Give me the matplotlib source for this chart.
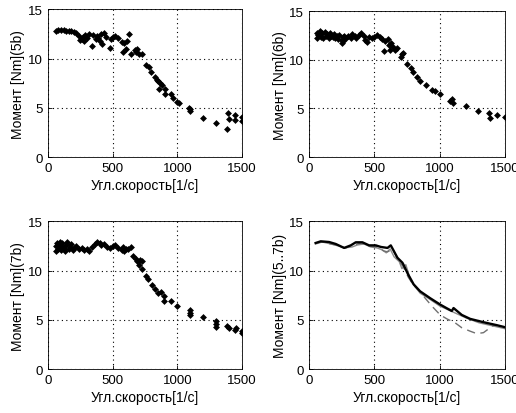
import matplotlib
matplotlib.use("Agg")
from matplotlib import pyplot as plt

plt.rcParams['font.family'] = ['Liberation Sans', 'DejaVu Sans']

# 5b measurements
x5 = [60, 80, 100, 120, 140, 160, 180, 200, 220, 240, 250, 260, 270, 280, 290, 300, 320, 340, 350,
      370, 380, 390, 400, 410, 420, 430, 450, 480, 490, 500, 520, 540, 570, 580, 590, 600, 610, 630,
      640, 670, 680, 690, 700, 725, 760, 780, 800, 825, 840, 853, 866, 861, 880, 905, 905, 949, 964,
      1000, 1010, 1093, 1100, 1100, 1196, 1299, 1387, 1395, 1400, 1446, 1446, 1500, 1500]
y5 = [12.8, 12.9, 12.9, 12.9, 12.8, 12.8, 12.8, 12.7, 12.6, 12.3, 11.9, 12.0, 12.2, 11.8, 12.4, 12.1,
      12.5, 11.3, 12.4, 12.0, 12.3, 12.1, 11.8, 12.5, 11.5, 12.6, 12.2, 11.1, 12.0, 12.2, 12.3, 12.1,
      11.7, 10.7, 11.6, 11.0, 11.8, 12.5, 10.5, 10.9, 10.7, 11.0, 10.5, 10.5, 9.4, 9.1, 8.6, 8.1, 7.8,
      7.7, 7.5, 6.9, 7.3, 6.9, 6.45, 6.4, 6.0, 5.6, 5.5, 5.0, 4.9, 4.7, 4.0, 3.45, 2.9, 4.5, 3.9, 4.3,
      3.8, 4.1, 3.7]

# 6b measurements
x6 = [60, 60, 70, 80, 90, 100, 110, 120, 130, 140, 150, 160, 170, 180, 190, 200, 210, 220, 230, 250,
      250, 260, 260, 270, 280, 300, 320, 330, 350, 360, 380, 400, 420, 430, 440, 460, 480, 500, 520,
      540, 560, 570, 580, 600, 610, 620, 630, 640, 660, 670, 700, 710, 720, 752, 778, 798, 824, 849,
      895, 939, 965, 1002, 1079, 1100, 1095, 1199, 1296, 1380, 1385, 1441, 1497]
y6 = [12.2, 12.7, 12.5, 12.9, 12.3, 12.7, 12.2, 12.8, 12.4, 12.6, 12.2, 12.7, 12.4, 12.3, 12.6, 12.2,
      12.4, 12.1, 12.5, 11.7, 12.0, 11.9, 12.3, 12.4, 12.2, 12.4, 12.2, 12.6, 12.4, 12.2, 12.5, 12.7,
      12.4, 12.0, 11.8, 12.3, 12.2, 12.3, 12.5, 12.3, 12.1, 10.9, 11.9, 12.1, 11.5, 11.0, 11.7, 11.3,
      11.0, 11.2, 10.3, 10.6, 10.7, 9.55, 9.1, 8.7, 8.2, 7.8, 7.4, 6.9, 6.8, 6.5, 5.8, 5.6, 6.0, 5.2,
      4.76, 4.5, 4.0, 4.3, 4.1]

# 7b measurements
x7 = [60, 60, 70, 80, 80, 90, 100, 100, 110, 120, 130, 140, 150, 160, 170, 180, 190, 200, 220, 240,
      260, 280, 300, 320, 340, 360, 380, 400, 410, 430, 460, 480, 500, 520, 540, 570, 580, 590, 600,
      620, 640, 660, 680, 690, 700, 710, 724, 730, 758, 776, 802, 827, 853, 870, 897, 897, 949, 1000,
      1098, 1098, 1100, 1196, 1299, 1299, 1299, 1387, 1400, 1446, 1450, 1498, 1500]
y7 = [12.0, 12.5, 12.8, 12.2, 12.6, 12.9, 12.1, 12.5, 12.8, 12.3, 12.0, 12.6, 12.9, 12.2, 12.4, 12.7,
      12.1, 12.3, 12.5, 12.2, 12.3, 12.1, 12.2, 12.0, 12.4, 12.7, 12.9, 12.8, 12.6, 12.7, 12.4, 12.3,
      12.5, 12.6, 12.3, 12.1, 12.4, 12.0, 12.2, 12.2, 12.4, 11.5, 11.2, 11.0, 10.6, 11.1, 10.2, 11.0,
      9.4, 9.1, 8.5, 8.1, 7.7, 7.8, 7.4, 6.95, 6.9, 6.4, 6.0, 5.5, 5.7, 5.3, 4.9, 4.6, 4.3, 4.36, 4.2,
      4.0, 4.2, 3.85, 3.7]

# 5..7b curves
xm = [50, 89, 153, 204, 268, 319, 357, 408, 459, 510, 549, 600, 625, 676, 714, 722, 758, 773, 800,
      849, 926, 1003, 1050, 1092, 1105, 1168, 1232, 1334, 1436, 1500]
ym = [12.8, 12.97, 12.9, 12.7, 12.3, 12.56, 12.87, 12.87, 12.56, 12.56, 12.4, 12.3, 12.56, 11.3,
      10.8, 10.6, 9.6, 9.25, 8.6, 7.9, 7.2, 6.55, 6.2, 5.9, 6.2, 5.5, 5.1, 4.76, 4.46, 4.25]
xg = [50, 100, 200, 270, 330, 370, 420, 470, 520, 560, 590, 620, 650, 690, 710, 740, 780, 850, 900,
      1000, 1100, 1200, 1300, 1400, 1500]
yg = [12.7, 12.9, 12.6, 12.3, 12.4, 12.6, 12.7, 12.4, 12.3, 12.1, 11.8, 12.2, 11.4, 10.9, 10.2, 10.6,
      8.9, 7.7, 7.3, 6.4, 5.8, 5.2, 4.7, 4.4, 4.1]
xd = [50, 100, 200, 280, 340, 400, 450, 520, 570, 600, 640, 680, 720, 760, 800, 849, 888, 939, 1003,
      1054, 1117, 1168, 1232, 1283, 1334, 1385, 1420]
yd = [12.8, 12.9, 12.6, 12.3, 12.6, 12.8, 12.5, 12.4, 12.0, 11.9, 12.2, 11.1, 10.4, 9.3, 8.5, 7.9,
      7.2, 6.4, 5.5, 5.1, 4.7, 4.2, 3.85, 3.6, 3.7, 4.2, 4.5]

fig = plt.figure(figsize=(5.16, 4.14), dpi=100)
boxes = [[0.093, 0.618, 0.376, 0.357], [0.599, 0.618, 0.380, 0.353],
         [0.093, 0.106, 0.376, 0.357], [0.599, 0.106, 0.380, 0.357]]
labels = ['Момент [Nm](5b)', 'Момент [Nm](6b)', 'Момент [Nm](7b)', 'Момент [Nm](5..7b)']
axes = [fig.add_axes(b) for b in boxes]

for ax, (xs, ys) in zip(axes[:3], [(x5, y5), (x6, y6), (x7, y7)]):
    ax.plot(xs, ys, 'D', color='black', markersize=3.5, markeredgewidth=0)

ax = axes[3]
ax.plot(xg, yg, '-', color='#8c8c8c', linewidth=1.0)
ax.plot(xd, yd, '--', color='#707070', linewidth=1.0, dashes=(6, 4))
ax.plot(xm, ym, '-', color='black', linewidth=1.7)

for ax, lab in zip(axes, labels):
    ax.set_xlim(0, 1500)
    ax.set_ylim(0, 15)
    ax.set_xticks([0, 500, 1000, 1500])
    ax.set_yticks([0, 5, 10, 15])
    ax.tick_params(direction='in', length=3, labelsize=9.5, width=0.6)
    ax.grid(True, linestyle=(0, (1, 3)), color='black', linewidth=0.8)
    for s in ax.spines.values():
        s.set_linewidth(0.6)
    ax.set_xlabel('Угл.скорость[1/с]', fontsize=10, labelpad=3)
    ax.set_ylabel(lab, fontsize=10, labelpad=2)

fig.savefig('out.png', dpi=100)
